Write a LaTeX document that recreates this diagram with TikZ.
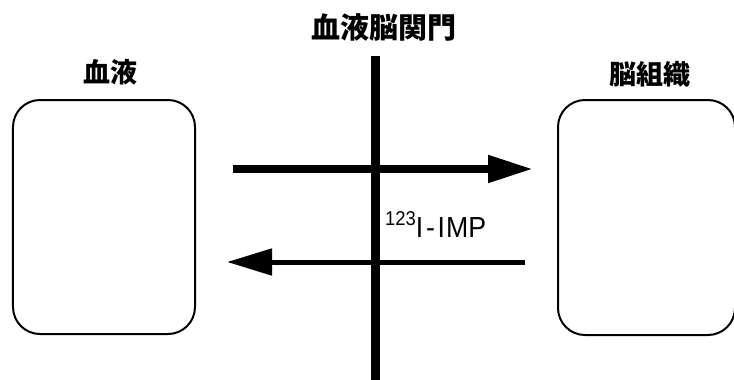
\documentclass[tikz,border=0pt]{standalone}
\usepackage{fontspec}
\setmainfont{Liberation Sans}
\newfontfamily\cjk{Noto Sans CJK JP}
\usetikzlibrary{arrows.meta}
\tikzset{
  box/.style={draw=black, line width=2bp, rounded corners=27bp, inner sep=0pt},
  lbl/.style={font=\cjk\bfseries\fontsize{27bp}{30bp}\selectfont, inner sep=0pt},
  bigarrow/.style={-{Triangle[length=45bp,width=26bp]}},
}
\begin{document}
\begin{tikzpicture}[x=1bp,y=-1bp]
\clip (0,0) rectangle (734,379);
\fill[white] (0,0) rectangle (734,379);
% boxes
\node[box, minimum width=182bp, minimum height=234bp] (blood) at (104,217) {};
\node[box, minimum width=177bp, minimum height=235bp] (brain) at (646.5,217.5) {};
% labels
\node[lbl] (bloodlbl) at (110,72) {血液};
\node[lbl] (brainlbl) at (649.5,74) {脳組織};
\node[lbl, font=\cjk\bfseries\fontsize{29bp}{32bp}\selectfont] (bbblbl) at (383.5,27.5) {血液脳関門};
% barrier
\node[fill=black, inner sep=0pt, minimum width=9bp, minimum height=330bp, anchor=north] (barrier) at (375.5,56) {};
% arrows
\coordinate (a1s) at (233,169);
\coordinate (a1e) at (533,169);
\coordinate (a2s) at (525,262);
\coordinate (a2e) at (227,262);
\draw[bigarrow, line width=8bp] (a1s) -- (a1e);
\draw[bigarrow, line width=5bp] (a2s) -- (a2e);
% compound label
\node[anchor=base west, inner sep=0pt, font=\fontsize{29bp}{32bp}\selectfont, xscale=0.92] (imp) at (385,237)
  {\raisebox{12bp}{\fontsize{20bp}{22bp}\selectfont 123}I\kern3bp-\kern3bp I\kern1bp MP};
\end{tikzpicture}
\end{document}
